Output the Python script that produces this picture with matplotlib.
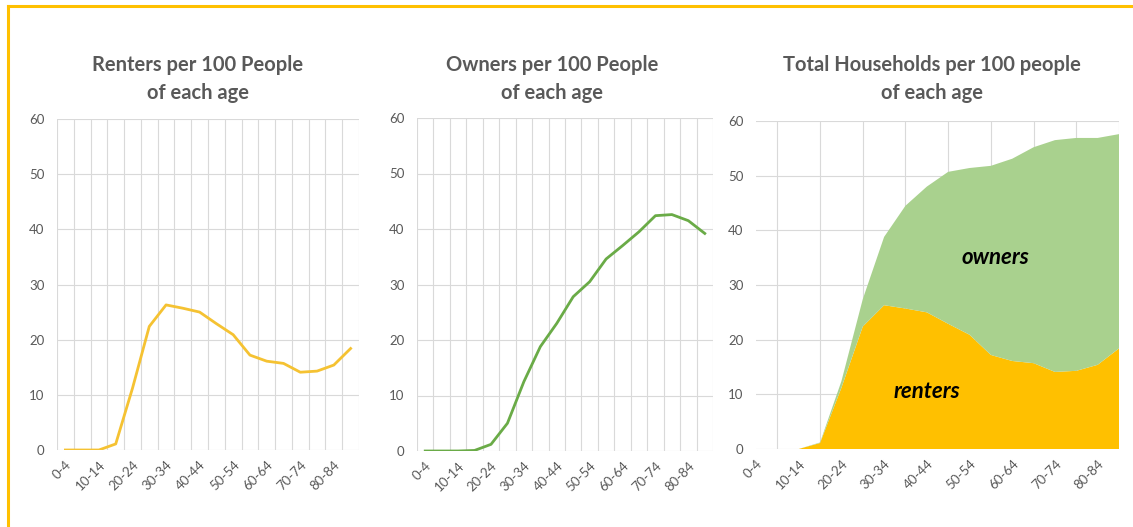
import numpy as np
import matplotlib.pyplot as plt
from matplotlib.lines import Line2D

plt.rcParams['font.family'] = ['Lato', 'DejaVu Sans']

# age groups (only every other one gets a label, like the excel chart)
ages = ['0-4', '5-9', '10-14', '15-19', '20-24', '25-29', '30-34', '35-39', '40-44',
        '45-49', '50-54', '55-59', '60-64', '65-69', '70-74', '75-79', '80-84', '85+']

# households per 100 people of each age
renters = [0, 0, 0, 1.1, 11.2, 22.4, 26.3, 25.7, 25.0, 22.9, 20.9, 17.2,
           16.1, 15.7, 14.1, 14.3, 15.4, 18.4]
owners = [0, 0, 0, 0.1, 1.2, 5.0, 12.5, 18.8, 23.0, 27.8, 30.5, 34.6,
          37.0, 39.5, 42.4, 42.6, 41.5, 39.2]

gray = '#595959'
grid_col = '#D9D9D9'
renter_line = '#F5C232'
owner_line = '#6AAB47'
renter_fill = '#FFC000'
owner_fill = '#A9D18E'

W, H = 1133, 527
fig = plt.figure(figsize=(W / 100, H / 100), dpi=100)


def px_axes(x0, y0, x1, y1):
    # pixel box (top-left origin) -> figure axes
    return fig.add_axes([x0 / W, 1 - y1 / H, (x1 - x0) / W, (y1 - y0) / H])


def style(ax, x, between):
    ax.set_ylim(0, 60)
    ax.set_yticks(range(0, 61, 10))
    if between:
        ax.set_xlim(-0.5, len(x) - 0.5)
        ax.set_xticks(np.arange(-0.5, len(x), 1), minor=True)
    else:
        ax.set_xlim(0, len(x) - 1)
        ax.set_xticks(np.arange(0, len(x), 1), minor=True)
    ax.set_xticks(x[::2])
    ax.set_xticklabels(ages[::2], rotation=45, ha='right', rotation_mode='anchor',
                       fontsize=9.5, color=gray)
    ax.tick_params(axis='y', labelsize=9.5, labelcolor=gray, length=0, pad=9)
    ax.tick_params(axis='x', which='both', length=0, pad=6)
    ax.grid(axis='y', color=grid_col, linewidth=0.8)
    ax.grid(axis='x', which='minor', color=grid_col, linewidth=0.8)
    ax.grid(axis='x', which='major', visible=False)
    for s in ax.spines.values():
        s.set_visible(False)
    ax.set_axisbelow(True)


x = np.arange(len(ages))

ax1 = px_axes(57, 119, 359, 450)
ax1.plot(x, renters, color=renter_line, linewidth=2)
style(ax1, x, True)

ax2 = px_axes(417, 118, 713, 451)
ax2.plot(x, owners, color=owner_line, linewidth=2)
style(ax2, x, True)

ax3 = px_axes(756, 121, 1119, 449)
ax3.stackplot(x, renters, owners, colors=[renter_fill, owner_fill], linewidth=0)
style(ax3, x, False)
ax3.text(11.2, 35, 'owners', fontsize=16, fontweight='bold', fontstyle='italic',
         ha='center', va='center', color='black')
ax3.text(8.0, 10.5, 'renters', fontsize=16, fontweight='bold', fontstyle='italic',
         ha='center', va='center', color='black')

titles = [('Renters per 100 People\nof each age', 198),
          ('Owners per 100 People\nof each age', 552),
          ('Total Households per 100 people\nof each age', 932)]
for t, cx in titles:
    fig.text(cx / W, 1 - 79 / H, t, ha='center', va='center', fontsize=14.5,
             fontweight='bold', color=gray, linespacing=1.55)

# yellow frame (only top and left edges show in the crop)
fig.add_artist(Line2D([8 / W, 1], [1 - 6 / H, 1 - 6 / H], color=renter_fill, linewidth=2.2))
fig.add_artist(Line2D([8 / W, 8 / W], [0, 1 - 6 / H], color=renter_fill, linewidth=2.2))

fig.savefig('out.png', dpi=100)
